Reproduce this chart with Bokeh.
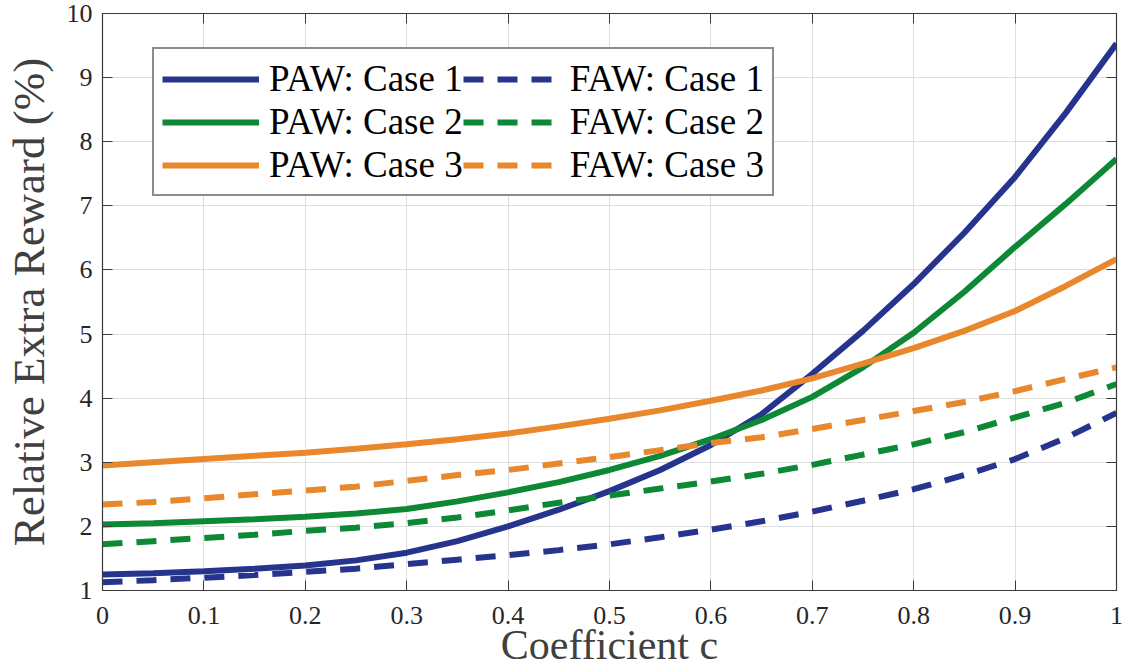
from bokeh.plotting import figure
from bokeh.models import Legend, LegendItem, LinearAxis, FixedTicker, Range1d
from bokeh.embed import file_html
from bokeh.resources import INLINE

# ---- data ----
c = [0.0, 0.05, 0.1, 0.15, 0.2, 0.25, 0.3, 0.35, 0.4, 0.45, 0.5,
     0.55, 0.6, 0.65, 0.7, 0.75, 0.8, 0.85, 0.9, 0.95, 1.0]
paw_case1 = [1.25, 1.27, 1.30, 1.34, 1.39, 1.47, 1.59, 1.77, 2.00, 2.26, 2.55,
             2.88, 3.27, 3.75, 4.38, 5.05, 5.78, 6.58, 7.45, 8.45, 9.53]
paw_case2 = [2.03, 2.05, 2.08, 2.11, 2.15, 2.20, 2.27, 2.39, 2.53, 2.69, 2.88,
             3.10, 3.36, 3.66, 4.02, 4.48, 5.02, 5.66, 6.36, 7.03, 7.73]
paw_case3 = [2.95, 3.00, 3.05, 3.10, 3.15, 3.21, 3.28, 3.36, 3.45, 3.56, 3.68,
             3.81, 3.96, 4.12, 4.31, 4.54, 4.78, 5.05, 5.36, 5.75, 6.17]
faw_case1 = [1.13, 1.16, 1.20, 1.24, 1.29, 1.34, 1.41, 1.48, 1.55, 1.63, 1.72,
             1.83, 1.95, 2.08, 2.23, 2.40, 2.58, 2.80, 3.05, 3.38, 3.77]
faw_case2 = [1.72, 1.77, 1.82, 1.87, 1.93, 1.98, 2.05, 2.14, 2.25, 2.37, 2.48,
             2.59, 2.70, 2.82, 2.96, 3.12, 3.28, 3.47, 3.70, 3.93, 4.22]
faw_case3 = [2.34, 2.38, 2.44, 2.50, 2.56, 2.62, 2.71, 2.80, 2.88, 2.98, 3.08,
             3.19, 3.30, 3.39, 3.52, 3.66, 3.80, 3.94, 4.11, 4.30, 4.48]

x_ticks = [0, 0.1, 0.2, 0.3, 0.4, 0.5, 0.6, 0.7, 0.8, 0.9, 1]
x_tick_labels = ["0", "0.1", "0.2", "0.3", "0.4", "0.5", "0.6", "0.7", "0.8", "0.9", "1"]
y_ticks = [1, 2, 3, 4, 5, 6, 7, 8, 9, 10]

BLUE = "#26348e"
GREEN = "#0d8834"
ORANGE = "#e8872c"
FONT = "Liberation Serif, Times New Roman, serif"
TICK_COLOR = "#262626"
DASH = "20 14"

p = figure(width=1140, height=670, output_backend="svg", toolbar_location=None,
           x_range=Range1d(0, 1), y_range=Range1d(1, 10),
           min_border_left=102, min_border_right=24, min_border_top=13,
           min_border_bottom=80)
p.background_fill_color = "white"
p.border_fill_color = "white"
p.outline_line_color = "#3a3a3a"
p.outline_line_width = 1.2

r_paw1 = p.line(c, paw_case1, line_color=BLUE, line_width=6)
r_faw1 = p.line(c, faw_case1, line_color=BLUE, line_width=6, line_dash=DASH)
r_paw2 = p.line(c, paw_case2, line_color=GREEN, line_width=6)
r_faw2 = p.line(c, faw_case2, line_color=GREEN, line_width=6, line_dash=DASH)
r_paw3 = p.line(c, paw_case3, line_color=ORANGE, line_width=6)
r_faw3 = p.line(c, faw_case3, line_color=ORANGE, line_width=6, line_dash=DASH)

# axes styling
for ax in [p.xaxis[0], p.yaxis[0]]:
    ax.major_tick_in = 10
    ax.major_tick_out = 0
    ax.minor_tick_line_color = None
    ax.axis_line_color = "#3a3a3a"
    ax.major_tick_line_color = "#3a3a3a"
    ax.major_label_text_font = FONT
    ax.major_label_text_color = TICK_COLOR
    ax.major_label_text_font_size = "26px"

p.xaxis[0].ticker = FixedTicker(ticks=x_ticks)
p.xaxis[0].major_label_overrides = {t: l for t, l in zip(x_ticks, x_tick_labels)}
p.xaxis[0].major_label_standoff = 16
p.xaxis[0].axis_label = "Coefficient c"
p.xaxis[0].axis_label_text_font = FONT
p.xaxis[0].axis_label_text_font_style = "normal"
p.xaxis[0].axis_label_text_font_size = "42px"
p.xaxis[0].axis_label_text_color = "#404040"
p.xaxis[0].axis_label_standoff = -5

p.yaxis[0].ticker = FixedTicker(ticks=y_ticks)
p.yaxis[0].major_label_standoff = 10
p.yaxis[0].axis_label = "Relative Extra Reward (%)"
p.yaxis[0].axis_label_text_font = FONT
p.yaxis[0].axis_label_text_font_style = "normal"
p.yaxis[0].axis_label_text_font_size = "45px"
p.yaxis[0].axis_label_text_color = "#404040"
p.yaxis[0].axis_label_standoff = 10

# mirrored ticks (top and right), no labels
top = LinearAxis(ticker=FixedTicker(ticks=x_ticks),
                 major_label_overrides={t: "" for t in x_ticks})
right = LinearAxis(ticker=FixedTicker(ticks=y_ticks),
                   major_label_overrides={t: "" for t in y_ticks})
for ax in [top, right]:
    ax.major_tick_in = 10
    ax.major_tick_out = 0
    ax.minor_tick_line_color = None
    ax.axis_line_color = "#3a3a3a"
    ax.major_tick_line_color = "#3a3a3a"
    ax.major_label_text_font_size = "0px"
    ax.major_label_standoff = 0
p.add_layout(top, "above")
p.add_layout(right, "right")

p.xgrid.ticker = FixedTicker(ticks=x_ticks)
p.ygrid.ticker = FixedTicker(ticks=y_ticks)
p.xgrid.grid_line_color = "#dedede"
p.ygrid.grid_line_color = "#dedede"

# legend: two columns, filled column by column
items = [
    LegendItem(label="PAW: Case 1", renderers=[r_paw1]),
    LegendItem(label="PAW: Case 2", renderers=[r_paw2]),
    LegendItem(label="PAW: Case 3", renderers=[r_paw3]),
    LegendItem(label="FAW: Case 1", renderers=[r_faw1]),
    LegendItem(label="FAW: Case 2", renderers=[r_faw2]),
    LegendItem(label="FAW: Case 3", renderers=[r_faw3]),
]
legend = Legend(items=items, ncols=2, location=(50, 394))
legend.label_text_font = FONT
legend.label_text_font_size = "37px"
legend.label_text_color = "black"
legend.glyph_width = 97
legend.glyph_height = 20
legend.label_standoff = 10
legend.spacing = 0
legend.padding = 8
legend.margin = 0
legend.border_line_color = "#1a1a1a"
legend.border_line_width = 2
legend.background_fill_alpha = 1
p.add_layout(legend, "center")

open("out.html", "w").write(file_html(p, INLINE))
